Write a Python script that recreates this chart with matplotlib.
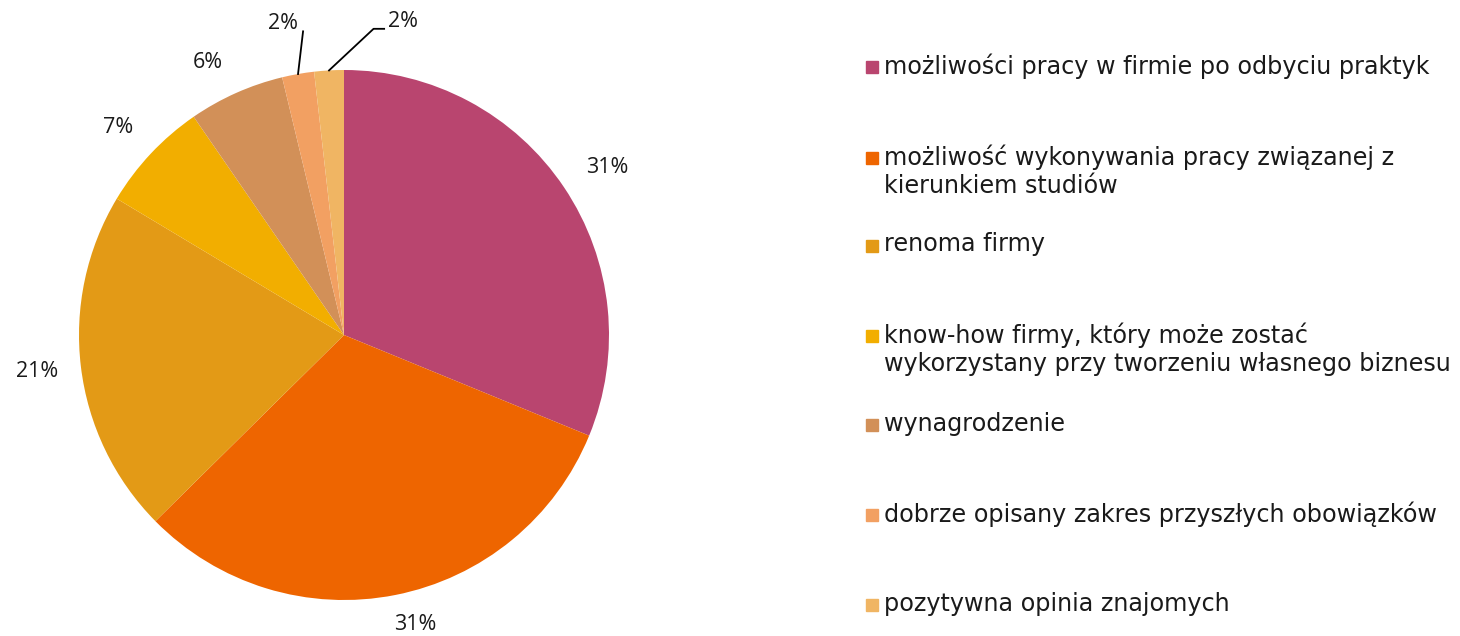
import matplotlib
matplotlib.use('Agg')
import matplotlib.pyplot as plt
from matplotlib.patches import Rectangle
import numpy as np

# Data
categories = [
    'możliwości pracy w firmie po odbyciu praktyk',
    'możliwość wykonywania pracy związanej z\nkierunkiem studiów',
    'renoma firmy',
    'know-how firmy, który może zostać\nwykorzystany przy tworzeniu własnego biznesu',
    'wynagrodzenie',
    'dobrze opisany zakres przyszłych obowiązków',
    'pozytywna opinia znajomych',
]
shares = [31.2, 31.4, 21.0, 6.8, 5.85, 1.95, 1.8]
colors = ['#B9456F', '#EE6500', '#E39A16', '#F2AE00', '#D29058', '#F2A062', '#F0B563']

W, H = 1460, 636
fig = plt.figure(figsize=(W / 100, H / 100), dpi=100)
plt.rcParams['font.family'] = 'DejaVu Sans'

# pie axes: centre (344, 335) px, radius 265 px
cx, cy, r = 344, 335, 265
ax = fig.add_axes([(cx - r) / W, (H - cy - r) / H, 2 * r / W, 2 * r / H])
wedges, _ = ax.pie(shares, colors=colors, startangle=90, counterclock=False,
                   wedgeprops=dict(linewidth=0))
ax.set_xlim(-1, 1)
ax.set_ylim(-1, 1)
ax.set_aspect('equal')
ax.axis('off')

lbl_kw = dict(ha='center', va='center', fontsize=15.5, family='Open Sans',
              color='#1a1a1a')

# percentage labels (distance from centre, small angle nudge in degrees)
dists = [1.175, 1.125, 1.167, 1.157, 1.15]
nudge = [-1.4, 2.6, 0.0, 0.7, 2.6]
for i, w in enumerate(wedges):
    mid = np.deg2rad((w.theta1 + w.theta2) / 2)
    txt = f'{round(shares[i])}%'
    x0, y0 = np.cos(mid), np.sin(mid)
    if i < 5:
        a = mid + np.deg2rad(nudge[i])
        d = dists[i]
        ax.text(d * np.cos(a), d * np.sin(a), txt, **lbl_kw)
    elif i == 5:
        # leader line straight up-ish
        ax.plot([x0, x0 + 0.019], [y0, y0 + 0.161], color='black', lw=1.3,
                clip_on=False)
        ax.text(x0 - 0.055, y0 + 0.191, txt, **lbl_kw)
    else:
        # leader line with a short horizontal shelf
        ax.plot([x0, x0 + 0.168, x0 + 0.208], [y0, y0 + 0.157, y0 + 0.157],
                color='black', lw=1.3, clip_on=False)
        ax.text(x0 + 0.278, y0 + 0.186, txt, **lbl_kw)

# legend drawn by hand
ys = [67, 158, 246, 336, 425, 515, 605]
for lab, col, y in zip(categories, colors, ys):
    fig.patches.append(Rectangle((866 / W, (H - y - 6) / H), 12 / W, 12 / H,
                                 transform=fig.transFigure, color=col))
    fig.text(884 / W, (H - y + 13.5) / H, lab, ha='left', va='top', fontsize=17.2,
             color='#1a1a1a', linespacing=1.22)

fig.savefig('out.png', dpi=100)
